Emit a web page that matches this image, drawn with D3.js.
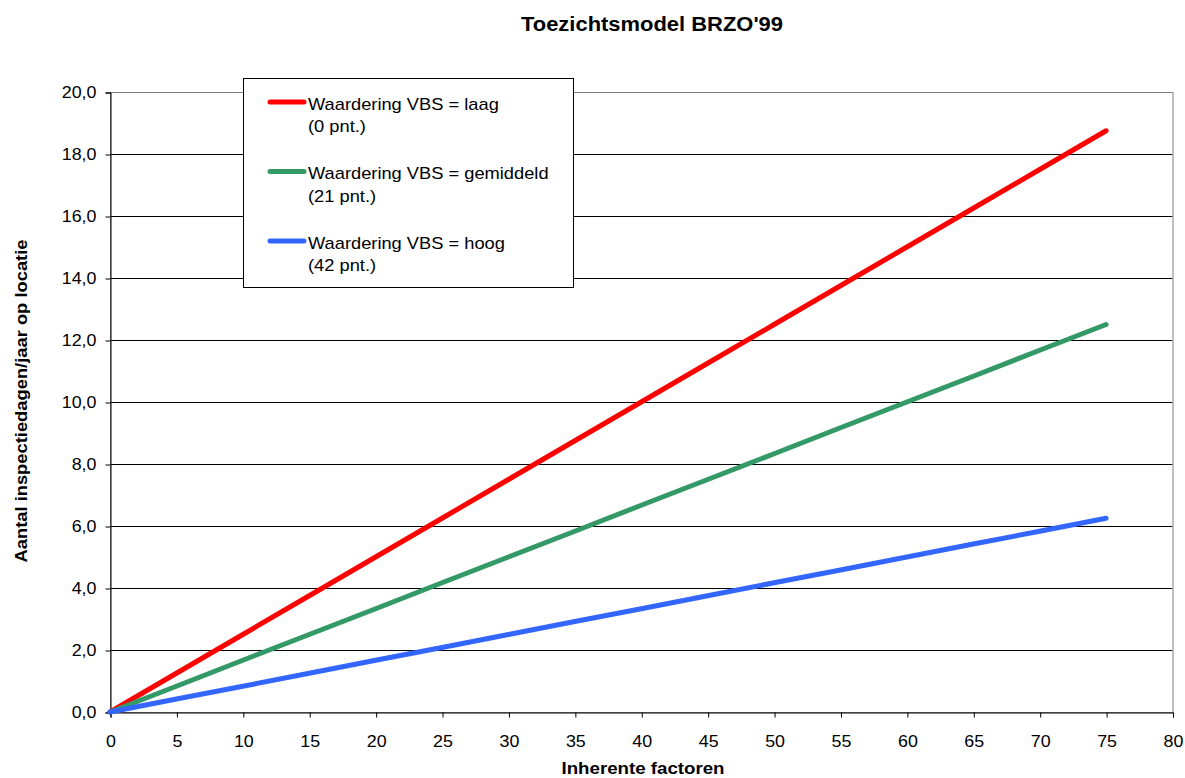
<!DOCTYPE html>
<html><head><meta charset="utf-8">
<script src="https://cdn.jsdelivr.net/npm/d3@7/dist/d3.min.js"></script>
<style>body{margin:0;background:#fff}svg{display:block;font-family:Arial,"Liberation Sans",sans-serif}</style>
</head><body>
<script>
const xValues = [0, 5, 10, 15, 20, 25, 30, 35, 40, 45, 50, 55, 60, 65, 70, 75];
const laag = [0, 1.25, 2.5, 3.75, 5.0, 6.25, 7.5, 8.75, 10.0, 11.25, 12.5, 13.75, 15.0, 16.25, 17.5, 18.75];
const gemiddeld = [0, 0.83, 1.67, 2.5, 3.33, 4.17, 5.0, 5.83, 6.67, 7.5, 8.33, 9.17, 10.0, 10.83, 11.67, 12.5];
const hoog = [0, 0.42, 0.83, 1.25, 1.67, 2.08, 2.5, 2.92, 3.33, 3.75, 4.17, 4.58, 5.0, 5.42, 5.83, 6.25];
const seriesNames = ["Waardering VBS = laag", "Waardering VBS = gemiddeld", "Waardering VBS = hoog"];
const seriesSub = ["(0 pnt.)", "(21 pnt.)", "(42 pnt.)"];
const seriesColors = ["#FF0000", "#339966", "#3366FF"];
const xTicks = [0,5,10,15,20,25,30,35,40,45,50,55,60,65,70,75,80];
const yTicks = [0,2,4,6,8,10,12,14,16,18,20];

const W = 1185, H = 778;
const L = 110, R = 1172.5, T = 92, B = 712;
const svg = d3.select("body").append("svg").attr("width", W).attr("height", H);
const x = d3.scaleLinear().domain([0, 80]).range([L, R]);
const y = d3.scaleLinear().domain([0, 20]).range([B, T]);

// horizontal stretch helper (reference text is rendered slightly wide)
function stretch(sel, f) {
  sel.each(function() {
    const w = this.getComputedTextLength();
    d3.select(this).attr("textLength", w * f).attr("lengthAdjust", "spacingAndGlyphs");
  });
}

// gridlines
svg.append("g").selectAll("line").data(yTicks.filter(d => d > 0 && d < 20)).join("line")
  .attr("x1", L).attr("x2", R).attr("y1", d => Math.round(y(d)) + 0.5).attr("y2", d => Math.round(y(d)) + 0.5)
  .attr("stroke", "#000").attr("stroke-width", 1);
// plot border (grey)
svg.append("rect").attr("x", L + 0.5).attr("y", T + 0.5).attr("width", R - L).attr("height", B - T)
  .attr("fill", "none").attr("stroke", "#808080").attr("stroke-width", 1);

// axes
const fmt = d => d.toFixed(1).replace(".", ",");
const yAxis = svg.append("g").attr("transform", `translate(${L + 0.5},0.5)`)
  .call(d3.axisLeft(y).tickValues(yTicks).tickFormat(fmt).tickSize(5).tickPadding(9));
const xAxis = svg.append("g").attr("transform", `translate(0.5,${B + 0.5})`)
  .call(d3.axisBottom(x).tickValues(xTicks).tickFormat(d => d).tickSize(5).tickPadding(17));
[yAxis, xAxis].forEach(a => {
  a.attr("font-size", 17).attr("font-family", "Arial, 'Liberation Sans', sans-serif");
  a.selectAll("text").attr("fill", "#000");
  a.selectAll("line, path").attr("stroke", "#000");
  stretch(a.selectAll("text"), 1.05);
});

// series
const data = [laag, gemiddeld, hoog];
const line = d3.line().x((d, i) => x(xValues[i])).y(d => y(d));
svg.append("g").selectAll("path").data(data).join("path")
  .attr("d", d => line(d)).attr("fill", "none")
  .attr("stroke", (d, i) => seriesColors[i]).attr("stroke-width", 5)
  .attr("stroke-linecap", "round").attr("stroke-linejoin", "round");

// legend
const lg = svg.append("g");
lg.append("rect").attr("x", 243.5).attr("y", 78.5).attr("width", 330).attr("height", 209)
  .attr("fill", "#fff").attr("stroke", "#000").attr("stroke-width", 1);
seriesNames.forEach((n, i) => {
  const yy = 102 + i * 69.5;
  lg.append("line").attr("x1", 270).attr("x2", 304).attr("y1", yy).attr("y2", yy)
    .attr("stroke", seriesColors[i]).attr("stroke-width", 5).attr("stroke-linecap", "round");
  lg.append("text").attr("class", "lt").attr("x", 308).attr("y", yy + 7.5).attr("font-size", 17).text(n);
  lg.append("text").attr("class", "lt").attr("x", 308).attr("y", yy + 30).attr("font-size", 17).text(seriesSub[i]);
});
stretch(lg.selectAll("text.lt"), 1.075);

// titles
svg.append("text").attr("x", 652).attr("y", 31).attr("text-anchor", "middle")
  .attr("font-size", 20).attr("font-weight", "bold")
  .attr("textLength", 262).attr("lengthAdjust", "spacingAndGlyphs").text("Toezichtsmodel BRZO'99");
svg.append("text").attr("x", 643).attr("y", 774).attr("text-anchor", "middle")
  .attr("font-size", 16.5).attr("font-weight", "bold")
  .attr("textLength", 163).attr("lengthAdjust", "spacingAndGlyphs").text("Inherente factoren");
svg.append("text").attr("transform", "translate(26.5,401) rotate(-90)").attr("text-anchor", "middle")
  .attr("font-size", 16.5).attr("font-weight", "bold")
  .attr("textLength", 323).attr("lengthAdjust", "spacingAndGlyphs").text("Aantal inspectiedagen/jaar op locatie");
</script>
</body></html>
